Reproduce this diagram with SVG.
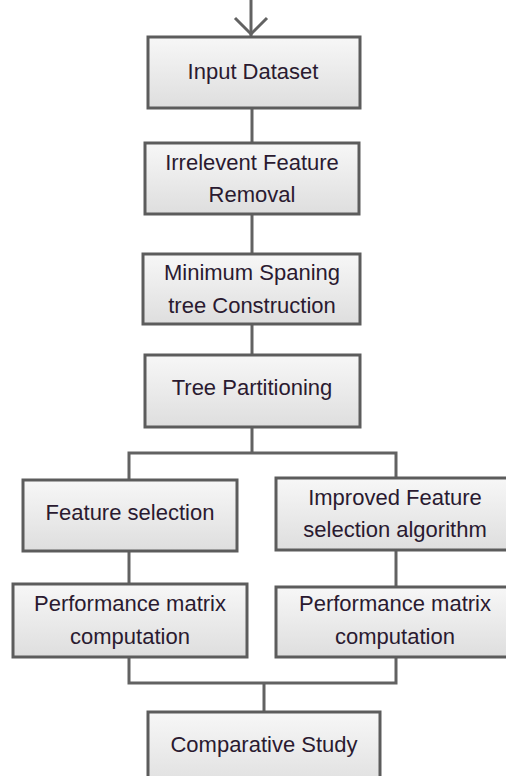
<svg xmlns="http://www.w3.org/2000/svg" width="506" height="776" viewBox="0 0 506 776">
<style>
.box{fill:url(#g);stroke:#5c5c5c;stroke-width:3}
.t{font-family:"Liberation Sans",Arial,sans-serif;font-size:22px;fill:#2a1a30;text-anchor:middle}
.c{fill:none;stroke:#626262;stroke-width:3}
</style>
<defs>
<linearGradient id="g" x1="0" y1="0" x2="0" y2="1">
<stop offset="0" stop-color="#f7f7f7"/>
<stop offset="1" stop-color="#dedede"/>
</linearGradient>
</defs>
<rect width="506" height="776" fill="#ffffff"/>
<g id="connectors">
<path class="c" d="M251,0 V37"/>
<path class="c" d="M235,18 L251,34 L267,18"/>
<path class="c" d="M252,108 V143"/>
<path class="c" d="M252,214 V254"/>
<path class="c" d="M252,324 V355"/>
<path class="c" d="M252,427 V453 M129,480 V453 H396 V478"/>
<path class="c" d="M129,551 V584"/>
<path class="c" d="M396,550 V587"/>
<path class="c" d="M129,657 V683 H396 V657 M264,683 V712"/>
</g>
<g id="input">
<rect class="box" x="148" y="37" width="212" height="71"/>
<text class="t" x="253" y="79">Input Dataset</text>
</g>
<g id="irrelevant">
<rect class="box" x="145" y="143" width="214" height="71"/>
<text class="t" x="252" y="170">Irrelevent Feature</text>
<text class="t" x="252" y="202">Removal</text>
</g>
<g id="mst">
<rect class="box" x="143" y="254" width="217" height="70"/>
<text class="t" x="252" y="280">Minimum Spaning</text>
<text class="t" x="252" y="313">tree Construction</text>
</g>
<g id="partition">
<rect class="box" x="145" y="355" width="215" height="72"/>
<text class="t" x="252" y="395">Tree Partitioning</text>
</g>
<g id="featsel">
<rect class="box" x="23" y="480" width="214" height="71"/>
<text class="t" x="130" y="520">Feature selection</text>
</g>
<g id="improved">
<rect class="box" x="276" y="478" width="240" height="72"/>
<text class="t" x="395" y="505">Improved Feature</text>
<text class="t" x="395" y="537">selection algorithm</text>
</g>
<g id="perf1">
<rect class="box" x="13" y="584" width="234" height="73"/>
<text class="t" x="130" y="611">Performance matrix</text>
<text class="t" x="130" y="644">computation</text>
</g>
<g id="perf2">
<rect class="box" x="276" y="587" width="240" height="70"/>
<text class="t" x="395" y="611">Performance matrix</text>
<text class="t" x="395" y="644">computation</text>
</g>
<g id="comparative">
<rect class="box" x="148" y="712" width="232" height="80"/>
<text class="t" x="264" y="752">Comparative Study</text>
</g>
</svg>
